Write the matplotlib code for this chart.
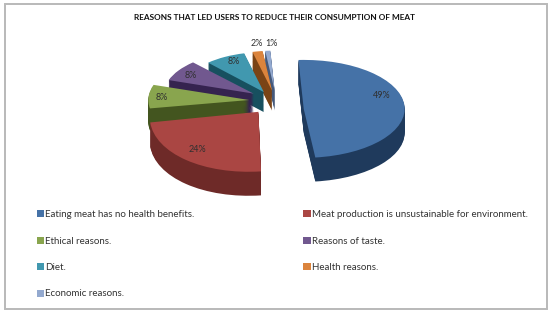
import matplotlib
matplotlib.use("Agg")
import matplotlib.pyplot as plt
from matplotlib.patches import Rectangle
from matplotlib.transforms import Affine2D

# Data
REASONS = ["Eating meat has no health benefits.",
           "Meat production is unsustainable for environment.",
           "Ethical reasons.", "Reasons of taste.", "Diet.",
           "Health reasons.", "Economic reasons."]
SHARES = [49, 24, 8, 8, 8, 2, 1]
TITLE = "REASONS THAT LED USERS TO REDUCE THEIR CONSUMPTION OF MEAT"

# Style
TOP_COLORS = ["#4572a7", "#aa4643", "#89a54e", "#71588f", "#4198af", "#db843d", "#93a9cf"]
SIDE_COLORS = ["#1f3a5c", "#6e2a28", "#43551f", "#35234f", "#17505f", "#7a4416", "#44587a"]
W, H = 550, 314
SQUASH = 0.485
RADIUS = 103
CENTER = (277, 101)
EXPLODE = 0.27
# fake perspective: per slice stretch, shear and shift (px) of the wedge around its apex, depth in px
STRETCH = [(0.98, 0.98), (1.05, 1.2), (0.98, 0.95), (0.87, 0.85), (0.8, 0.8), (0.8, 0.8), (0.8, 0.8)]
SHEAR = [0, 0.08, 0, 0, 0, 0, 0]
SHIFT = [(-1, 9), (-2, 0), (0, 0), (0, 0), (0, 3), (0, 3), (0, 3)]
DEPTH = [24, 24, 22, 21, 20, 20, 20]
DRAW_ORDER = [6, 5, 4, 3, 2, 1, 0]
PCT_POS = [(382, 96), (197, 149), (162, 97), (191, 75), (234, 62), (257, 44), (271, 44)]


def fx(x):
    return x / W


def fy(y):
    return 1 - y / H


fig = plt.figure(figsize=(W / 100, H / 100), dpi=100, facecolor="white")
plt.rcParams["font.family"] = "Lato"

fig.add_artist(Rectangle((fx(5), fy(309)), (547 - 5) / W, (309 - 4) / H, transform=fig.transFigure,
                         facecolor="white", edgecolor="#b9b9b9", linewidth=1.4, zorder=-1))

ax = fig.add_axes([0, 0, 1, 1])
ax.patch.set_visible(False)
center = (CENTER[0], (H - CENTER[1]) / SQUASH)
# pie() takes explode in data units, not in radii
explode = [EXPLODE * RADIUS] * len(SHARES)

wedges = None
n_layers = 24
for layer in range(n_layers, -1, -1):
    colors = TOP_COLORS if layer == 0 else SIDE_COLORS
    wedges, _ = ax.pie(SHARES, colors=colors, explode=explode, center=center, radius=RADIUS,
                       startangle=93, counterclock=False, wedgeprops={"linewidth": 0})
    for i, w in enumerate(wedges):
        sx, sy = STRETCH[i]
        cx, cy = w.center
        drop = layer / n_layers * DEPTH[i] / SQUASH
        tf = Affine2D().translate(-cx, -cy).scale(sx, sy)
        tf = tf + Affine2D.from_values(1, 0, SHEAR[i], 1, 0, 0)
        tf = tf + Affine2D().translate(cx + SHIFT[i][0], cy - drop - SHIFT[i][1] / SQUASH)
        w.set_transform(tf + ax.transData)
        w.set_zorder(DRAW_ORDER.index(i) * 100 + n_layers - layer)

ax.set_aspect("auto")
ax.set_xlim(0, W)
ax.set_ylim(0, H / SQUASH)

for share, (x, y) in zip(SHARES, PCT_POS):
    fig.text(fx(x), fy(y), f"{share}%", ha="center", va="center", fontsize=6.5, color="#303030", zorder=5)

fig.text(fx(274), fy(17.5), TITLE, ha="center", va="center", fontsize=5.95, fontweight="bold", color="#111111")

# row by row in the picture, legend fills column by column
order = [0, 2, 4, 6, 1, 3, 5]
fig.legend([wedges[i] for i in order], [REASONS[i] for i in order], ncol=2, frameon=False,
           loc="upper left", bbox_to_anchor=(fx(37), fy(210)), borderaxespad=0, borderpad=0,
           fontsize=7.0, labelcolor="#333333", handlelength=0.75, handleheight=0.75,
           handletextpad=0.1, labelspacing=1.8, columnspacing=11.2)

fig.savefig("out.png", dpi=100)
